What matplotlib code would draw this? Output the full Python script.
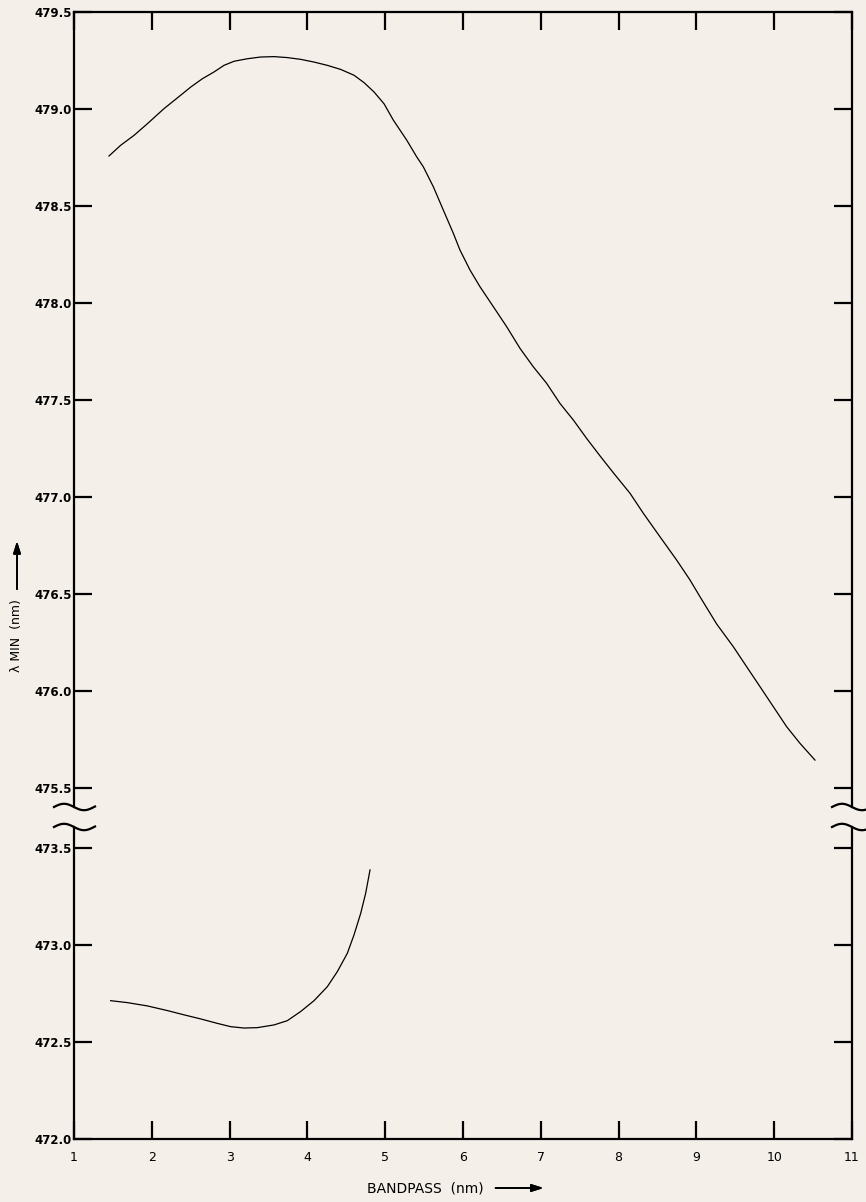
import numpy as np
import matplotlib
matplotlib.use("Agg")
import matplotlib.pyplot as plt
from matplotlib.lines import Line2D

# readings
bandpass_hi = [1.450, 1.600, 1.771, 1.943, 2.157, 2.328, 2.500, 2.650, 2.800, 2.928,
               3.057, 3.228, 3.399, 3.571, 3.742, 3.913, 4.085, 4.256, 4.428, 4.599,
               4.728, 4.856, 4.985, 5.104, 5.276, 5.404, 5.490, 5.619, 5.747, 5.876,
               5.961, 6.090, 6.218, 6.390, 6.561, 6.733, 6.904, 7.075, 7.247, 7.418,
               7.589, 7.761, 7.932, 8.147, 8.318, 8.532, 8.746, 8.918, 9.046, 9.261,
               9.475, 9.646, 9.818, 9.989, 10.160, 10.332, 10.524]
lmin_hi = [478.758, 478.813, 478.864, 478.924, 479.002, 479.057, 479.113, 479.156, 479.191, 479.225,
           479.246, 479.259, 479.268, 479.270, 479.265, 479.256, 479.242, 479.225, 479.204, 479.174,
           479.136, 479.088, 479.027, 478.943, 478.840, 478.754, 478.702, 478.599, 478.479, 478.359,
           478.273, 478.170, 478.084, 477.981, 477.878, 477.766, 477.671, 477.586, 477.482, 477.397,
           477.302, 477.212, 477.125, 477.019, 476.916, 476.795, 476.675, 476.572, 476.486, 476.345,
           476.228, 476.125, 476.022, 475.919, 475.816, 475.730, 475.644]

bandpass_lo = [1.471, 1.686, 1.943, 2.200, 2.414, 2.628, 2.842, 3.014, 3.185, 3.356, 3.571,
               3.742, 3.913, 4.085, 4.256, 4.385, 4.513, 4.599, 4.685, 4.749, 4.805]
lmin_lo = [472.713, 472.703, 472.686, 472.662, 472.640, 472.619, 472.596, 472.579, 472.572, 472.574,
           472.588, 472.610, 472.657, 472.713, 472.785, 472.863, 472.957, 473.052, 473.163, 473.267,
           473.387]

xticks = list(range(1, 12))
yticks_hi = [475.5, 476.0, 476.5, 477.0, 477.5, 478.0, 478.5, 479.0, 479.5]
yticks_lo = [472.0, 472.5, 473.0, 473.5]

W, H = 866, 1202
bg = "#f4efe8"

fig = plt.figure(figsize=(W / 100, H / 100), dpi=100, facecolor=bg)

def px(x, y):
    return x / W, 1 - y / H

L, R = 74, 852
top_px, brk1, brk2, bot_px = 12, 807, 827, 1139
ppu = 194.0  # pixels per nm on y

ax1 = fig.add_axes([L / W, 1 - brk1 / H, (R - L) / W, (brk1 - top_px) / H])
ax2 = fig.add_axes([L / W, 1 - bot_px / H, (R - L) / W, (bot_px - brk2) / H])

for ax in (ax1, ax2):
    ax.set_facecolor(bg)
    ax.set_xlim(1, 11)
    for s in ax.spines.values():
        s.set_linewidth(1.6)
    ax.tick_params(direction="in", length=13, width=1.6, labelsize=8.5,
                   left=True, right=True, pad=1.5)
    ax.set_xticks(xticks)

ax1.set_ylim(479.5 - (brk1 - top_px) / ppu, 479.5)
ax2.set_ylim(472.0, 472.0 + (bot_px - brk2) / ppu)
ax1.spines["bottom"].set_visible(False)
ax2.spines["top"].set_visible(False)

ax1.set_yticks(yticks_hi)
ax1.set_yticklabels([f"{v:.1f}" for v in yticks_hi], fontweight="bold")
ax2.set_yticks(yticks_lo)
ax2.set_yticklabels([f"{v:.1f}" for v in yticks_lo], fontweight="bold")

ax1.tick_params(axis="x", top=True, bottom=False, labelbottom=False)
ax2.tick_params(axis="x", top=False, bottom=True, labelsize=9, pad=8.5)
ax2.set_xticklabels([str(v) for v in xticks])

ax1.plot(bandpass_hi, lmin_hi, color="black", lw=0.9)
ax2.plot(bandpass_lo, lmin_lo, color="black", lw=0.9)

# break marks on both side spines
def squiggle(xc, yc):
    dx = np.linspace(-20, 21, 60)
    dy = -3.2 * np.sin(2 * np.pi * (dx + 20) / 40)
    xs = [(xc + a) / W for a in dx]
    ys = [1 - (yc + b) / H for b in dy]
    fig.add_artist(Line2D(xs, ys, color="black", lw=1.6))

for xc in (L, R):
    squiggle(xc, brk1)
    squiggle(xc, brk2)

# axis labels with arrows
fig.text(*px(367, 1188), "BANDPASS  (nm)", ha="left", va="center", fontsize=10)
fig.text(*px(17, 672), "λ MIN  (nm)", rotation=90, ha="center", va="bottom", fontsize=9)
fig.canvas.draw()
ren = fig.canvas.get_renderer()
txts = fig.texts
bx = txts[0].get_window_extent(ren)
by = txts[1].get_window_extent(ren)

ap = dict(arrowstyle="-|>,head_length=0.7,head_width=0.22", lw=1.3, color="black",
          shrinkA=0, shrinkB=0)
x0 = bx.x1 + 12
fig.add_artist(plt.annotate("", xy=((x0 + 48) / W, bx.y0 / H + (bx.height / 2) / H),
                            xytext=(x0 / W, bx.y0 / H + (bx.height / 2) / H),
                            xycoords="figure fraction", textcoords="figure fraction",
                            arrowprops=ap))
y0 = by.y1 + 10
fig.add_artist(plt.annotate("", xy=((by.x0 + by.width / 2) / W, (y0 + 48) / H),
                            xytext=((by.x0 + by.width / 2) / W, y0 / H),
                            xycoords="figure fraction", textcoords="figure fraction",
                            arrowprops=ap))

fig.savefig("out.png", dpi=100, facecolor=bg)
